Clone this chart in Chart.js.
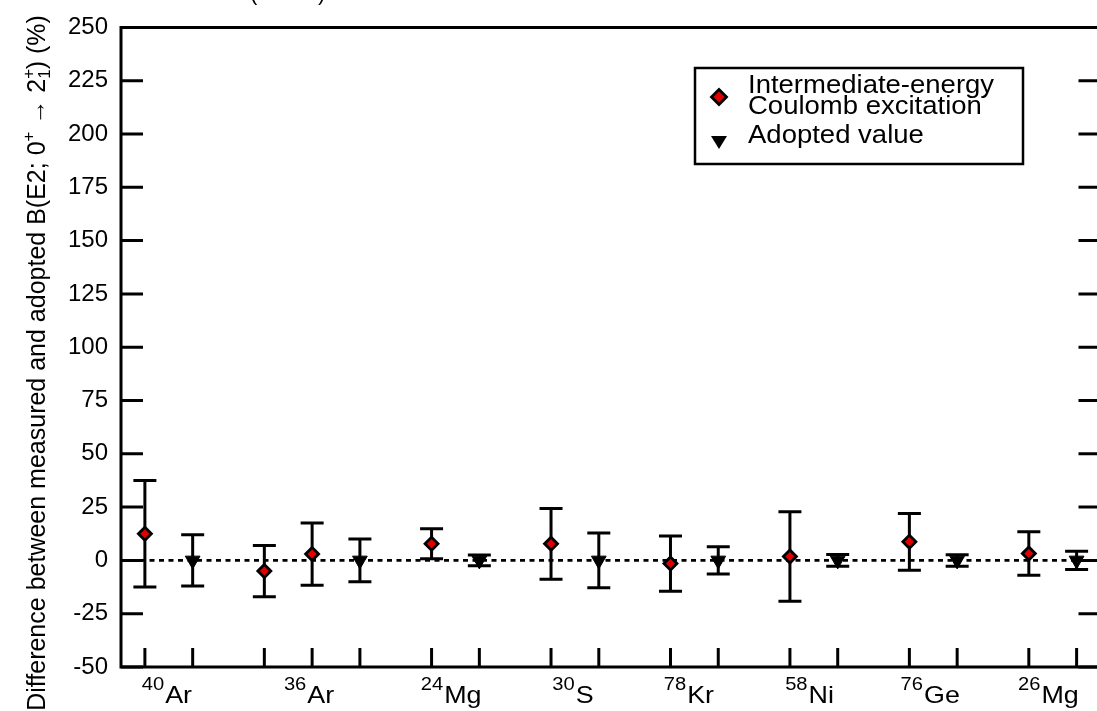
<!DOCTYPE html>
<html>
<head>
<meta charset="utf-8">
<script src="https://cdn.jsdelivr.net/npm/chart.js@4/dist/chart.umd.min.js"></script>
<style>
html,body{margin:0;padding:0;background:#fff;overflow:hidden;}
#wrap{width:1110px;height:711px;position:relative;}
</style>
</head>
<body>
<div id="wrap"><canvas id="c" width="1110" height="711"></canvas></div>
<script>
// ---- data ----
const massNumbers = ['40','36','24','30','78','58','76','26'];
const elements    = ['Ar','Ar','Mg','S','Kr','Ni','Ge','Mg'];
const labelX      = [0.9, 6.85, 12.8, 17.9, 22.75, 27.8, 32.85, 37.8];

const coulexX   = [0, 5, 7, 12, 17, 22, 27, 32, 37];
const coulexY   = [12.5, -5, 3, 7.8, 7.8, -1.5, 1.8, 8.7, 3.2];
const coulexErr = [25, 12, 14.6, 7, 16.6, 13, 21, 13.3, 10.2];

const adoptedX   = [2, 9, 14, 19, 24, 29, 34, 39];
const adoptedY   = [0, 0, 0, 0, 0, 0, 0, 0];
const adoptedErr = [12, 10, 2.5, 12.8, 6.4, 2.8, 2.7, 4.3];

const yTicks = [-50, -25, 0, 25, 50, 75, 100, 125, 150, 175, 200, 225, 250];

const legendLabels = [['Intermediate-energy', 'Coulomb excitation'], ['Adopted value']];
const yTitleRuns = [
  ['Difference between measured and adopted B(E2; 0', 'n'],
  ['+', 'sup'],
  [' \u2192 2', 'n'],
  ['+', 'sup'],
  ['1', 'sub'],
  [') (%)', 'n']
];

const FONT = '"Liberation Sans", Arial, sans-serif';

function stretchText(ctx, text, x, y, size, sx) {
  ctx.save();
  ctx.font = size + 'px ' + FONT;
  ctx.translate(x, y);
  ctx.scale(sx, 1);
  ctx.fillText(text, 0, 0);
  ctx.restore();
}
function textW(ctx, text, size, sx) {
  ctx.font = size + 'px ' + FONT;
  return ctx.measureText(text).width * sx;
}

const framePlugin = {
  id: 'frame',
  beforeDatasetsDraw(chart) {
    const {ctx, chartArea: a, scales: {x, y}} = chart;
    ctx.save();
    ctx.strokeStyle = '#000';
    ctx.lineWidth = 2.7;
    ctx.setLineDash([5, 4.5]);
    ctx.beginPath();
    ctx.moveTo(a.left, y.getPixelForValue(0));
    ctx.lineTo(a.right, y.getPixelForValue(0));
    ctx.stroke();
    ctx.setLineDash([]);
    ctx.lineWidth = 3;
    const bars = (xs, ys, es) => {
      xs.forEach((xv, i) => {
        const px = x.getPixelForValue(xv);
        const t = y.getPixelForValue(ys[i] + es[i]);
        const b = y.getPixelForValue(ys[i] - es[i]);
        ctx.beginPath();
        ctx.moveTo(px, t); ctx.lineTo(px, b);
        ctx.moveTo(px - 11.5, t); ctx.lineTo(px + 11.5, t);
        ctx.moveTo(px - 11.5, b); ctx.lineTo(px + 11.5, b);
        ctx.stroke();
      });
    };
    bars(coulexX, coulexY, coulexErr);
    bars(adoptedX, adoptedY, adoptedErr);
    ctx.restore();
  },
  afterDraw(chart) {
    const {ctx, chartArea: a, scales: {x, y}} = chart;
    ctx.save();
    ctx.strokeStyle = '#000';
    ctx.fillStyle = '#000';
    ctx.lineWidth = 3;
    ctx.beginPath();
    ctx.moveTo(a.left, a.top); ctx.lineTo(a.right, a.top);
    ctx.moveTo(a.left, a.top - 1.5); ctx.lineTo(a.left, a.bottom + 1.5);
    ctx.moveTo(a.left, a.bottom); ctx.lineTo(a.right, a.bottom);
    ctx.moveTo(a.right, a.top); ctx.lineTo(a.right, a.bottom);
    ctx.stroke();
    yTicks.forEach(v => {
      const py = y.getPixelForValue(v);
      ctx.beginPath();
      ctx.moveTo(a.left, py); ctx.lineTo(a.left + 22, py);
      ctx.moveTo(a.right, py); ctx.lineTo(a.right - 22, py);
      ctx.stroke();
    });
    [...coulexX, ...adoptedX].forEach(v => {
      const px = x.getPixelForValue(v);
      ctx.beginPath();
      ctx.moveTo(px, a.bottom); ctx.lineTo(px, a.bottom - 19);
      ctx.stroke();
    });
    ctx.textBaseline = 'alphabetic';
    ctx.textAlign = 'left';
    massNumbers.forEach((m, i) => {
      const wm = textW(ctx, m, 18, 1.12);
      const we = textW(ctx, elements[i], 24, 1.12);
      const cx = x.getPixelForValue(labelX[i]);
      const x0 = cx - (wm + we) / 2;
      stretchText(ctx, m, x0, 690, 18, 1.12);
      stretchText(ctx, elements[i], x0 + wm + 1, 703, 24, 1.12);
    });
    ctx.save();
    ctx.translate(45, 0);
    ctx.rotate(-Math.PI / 2);
    const sizes = {n: 25, sup: 17, sub: 17};
    const offs = {n: 0, sup: -11, sub: 5};
    let total = 0;
    yTitleRuns.forEach(([t, k]) => { ctx.font = sizes[k] + 'px ' + FONT; total += ctx.measureText(t).width; });
    let pos = -358 - total / 2;
    yTitleRuns.forEach(([t, k], i) => {
      ctx.font = sizes[k] + 'px ' + FONT;
      ctx.fillText(t, pos, offs[k]);
      if (k === 'sup' && yTitleRuns[i + 1] && yTitleRuns[i + 1][1] === 'sub') return;
      pos += ctx.measureText(t).width;
    });
    ctx.restore();
    ctx.font = '22px ' + FONT;
    ctx.fillText('(', 250, 0);
    ctx.fillText(')', 318, 0);
    // legend
    ctx.lineWidth = 2.5;
    ctx.strokeRect(695, 68, 328, 96);
    stretchText(ctx, legendLabels[0][0], 748, 93, 25, 1.1);
    stretchText(ctx, legendLabels[0][1], 748, 114, 25, 1.1);
    stretchText(ctx, legendLabels[1][0], 748, 143, 25, 1.1);
    ctx.fillStyle = '#e00000'; ctx.strokeStyle = '#000'; ctx.lineWidth = 2.8;
    ctx.beginPath();
    ctx.moveTo(719, 89.5); ctx.lineTo(726.5, 97); ctx.lineTo(719, 104.5); ctx.lineTo(711.5, 97); ctx.closePath();
    ctx.fill(); ctx.stroke();
    ctx.fillStyle = '#000';
    ctx.beginPath();
    ctx.moveTo(711, 136); ctx.lineTo(727, 136); ctx.lineTo(719, 149); ctx.closePath();
    ctx.fill();
    ctx.restore();
  }
};

new Chart(document.getElementById('c'), {
  type: 'scatter',
  data: {
    datasets: [
      {
        label: 'Intermediate-energy Coulomb excitation',
        data: coulexX.map((v, i) => ({x: v, y: coulexY[i]})),
        pointStyle: 'rectRot',
        pointRadius: 6.5,
        pointBackgroundColor: '#e00000',
        pointBorderColor: '#000',
        pointBorderWidth: 2.8
      },
      {
        label: 'Adopted value',
        data: adoptedX.map((v, i) => ({x: v, y: adoptedY[i]})),
        pointStyle: 'triangle',
        pointRotation: 180,
        pointRadius: 8.5,
        pointBackgroundColor: '#000',
        pointBorderColor: '#000',
        pointBorderWidth: 1
      }
    ]
  },
  options: {
    responsive: false,
    animation: false,
    devicePixelRatio: 1,
    layout: {padding: {top: 20, right: 5, left: 0, bottom: 0}},
    plugins: {legend: {display: false}, tooltip: {enabled: false}},
    scales: {
      x: {
        type: 'linear', min: -1, max: 40,
        ticks: {display: false},
        grid: {display: false, drawTicks: false},
        border: {display: false},
        afterFit(s) { s.height = 44; }
      },
      y: {
        min: -50, max: 250,
        afterBuildTicks(s) { s.ticks = yTicks.map(v => ({value: v})); },
        ticks: {color: '#000', font: {family: FONT, size: 24}, padding: 13},
        grid: {display: false, drawTicks: false},
        border: {display: false},
        afterFit(s) { s.width = 121; }
      }
    }
  },
  plugins: [framePlugin]
});
</script>
</body>
</html>
